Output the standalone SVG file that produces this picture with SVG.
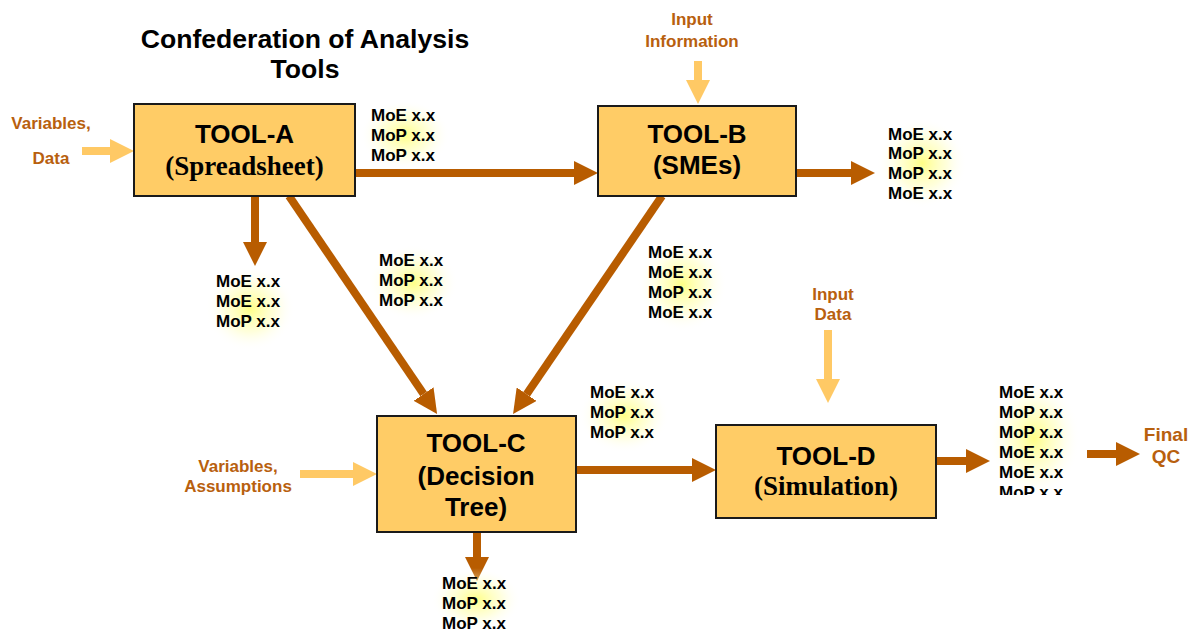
<svg xmlns="http://www.w3.org/2000/svg" width="1190" height="631" viewBox="0 0 1190 631">
<style>
.box{fill:#FFCC66;stroke:#1a1a1a;stroke-width:2}
.ttl{font-family:"Liberation Sans",Arial,sans-serif;font-weight:bold;font-size:26px;fill:#000;text-anchor:middle}
.big{font-size:26.6px}
.tms{font-family:"Liberation Serif","Times New Roman",serif;font-weight:bold;font-size:27px;fill:#000;text-anchor:middle}
.lbl{font-family:"Liberation Sans",Arial,sans-serif;font-weight:bold;font-size:17px;fill:#B8600E;text-anchor:middle}
.fin{font-family:"Liberation Sans",Arial,sans-serif;font-weight:bold;font-size:19px;fill:#B8600E;text-anchor:middle}
.m{font-family:"Liberation Sans",Arial,sans-serif;font-weight:bold;font-size:17px;fill:#000}
.dk{stroke:#B85C00;stroke-width:8;fill:none;marker-end:url(#hd)}
.lt{stroke:#FFC965;stroke-width:8;fill:none;marker-end:url(#hl)}
.glow{fill:url(#g)}
</style>
<defs>
<marker id="hd" viewBox="0 0 3 3" refX="0" refY="1.5" markerWidth="3" markerHeight="3" orient="auto" markerUnits="strokeWidth"><path d="M0,0 L3,1.5 L0,3 z" fill="#B85C00"/></marker>
<marker id="hl" viewBox="0 0 3 3" refX="0" refY="1.5" markerWidth="3" markerHeight="3" orient="auto" markerUnits="strokeWidth"><path d="M0,0 L3,1.5 L0,3 z" fill="#FFC965"/></marker>
<radialGradient id="g" cx="0.5" cy="0.5" r="0.5">
<stop offset="0" stop-color="#FFFF70" stop-opacity="0.85"/>
<stop offset="0.55" stop-color="#FFFFB0" stop-opacity="0.45"/>
<stop offset="1" stop-color="#FFFFFF" stop-opacity="0"/>
</radialGradient>
<clipPath id="clipD"><rect x="990" y="380" width="90" height="115"/></clipPath>
</defs>
<rect width="1190" height="631" fill="#fff"/>
<g id="title">
<text class="ttl big" x="305" y="48">Confederation of Analysis</text>
<text class="ttl big" x="305" y="78">Tools</text>
</g>
<g id="connectors">
<line class="lt" x1="82" y1="151" x2="110" y2="151"/>
<line class="dk" x1="355" y1="173" x2="574" y2="173"/>
<line class="lt" x1="698" y1="61" x2="698" y2="80"/>
<line class="dk" x1="797" y1="173" x2="851" y2="173"/>
<line class="dk" x1="255" y1="196" x2="255" y2="242"/>
<line class="dk" x1="289" y1="196" x2="423.6" y2="394.1"/>
<line class="dk" x1="662" y1="196" x2="526.6" y2="394.2"/>
<line class="lt" x1="300" y1="474" x2="353" y2="474"/>
<line class="dk" x1="576" y1="470" x2="692" y2="470"/>
<line class="dk" x1="477" y1="532" x2="477" y2="557"/>
<line class="lt" x1="828" y1="330" x2="828" y2="379"/>
<line class="dk" x1="936" y1="461" x2="966" y2="461"/>
<line class="dk" x1="1087" y1="454" x2="1116" y2="454"/>
</g>
<g id="inputs">
<text class="lbl" x="51" y="129">Variables,</text>
<text class="lbl" x="51" y="164">Data</text>
<text class="lbl" x="692" y="25">Input</text>
<text class="lbl" x="692" y="47">Information</text>
<text class="lbl" x="238" y="472">Variables,</text>
<text class="lbl" x="238" y="492">Assumptions</text>
<text class="lbl" x="833" y="300">Input</text>
<text class="lbl" x="833" y="320">Data</text>
<text class="fin" x="1166" y="441">Final</text>
<text class="fin" x="1166" y="463">QC</text>
</g>
<g id="node-a">
<rect class="box" x="134" y="104" width="221" height="92"/>
<text class="ttl" x="244.5" y="143">TOOL-A</text>
<text class="tms" x="244.5" y="175">(Spreadsheet)</text>
</g>
<g id="node-b">
<rect class="box" x="598" y="106" width="198" height="90"/>
<text class="ttl" x="697" y="143">TOOL-B</text>
<text class="ttl" x="697" y="174">(SMEs)</text>
</g>
<g id="node-c">
<rect class="box" x="377" y="416" width="199" height="116"/>
<text class="ttl" x="476" y="452">TOOL-C</text>
<text class="ttl" x="476" y="485">(Decision</text>
<text class="ttl" x="476" y="516">Tree)</text>
</g>
<g id="node-d">
<rect class="box" x="716" y="425" width="220" height="93"/>
<text class="ttl" x="826" y="465">TOOL-D</text>
<text class="tms" x="826" y="495">(Simulation)</text>
</g>
<g id="labels">
<rect class="glow" x="360" y="100" width="90" height="70"/>
<text class="m" x="371" y="121">MoE x.x</text>
<text class="m" x="371" y="141">MoP x.x</text>
<text class="m" x="371" y="161">MoP x.x</text>
<rect class="glow" x="877" y="118" width="90" height="90"/>
<text class="m" x="888" y="140">MoE x.x</text>
<text class="m" x="888" y="159">MoP x.x</text>
<text class="m" x="888" y="179">MoP x.x</text>
<text class="m" x="888" y="199">MoE x.x</text>
<rect class="glow" x="205" y="266" width="90" height="85"/>
<text class="m" x="216" y="287">MoE x.x</text>
<text class="m" x="216" y="307">MoE x.x</text>
<text class="m" x="216" y="327">MoP x.x</text>
<rect class="glow" x="368" y="245" width="90" height="75"/>
<text class="m" x="379" y="266">MoE x.x</text>
<text class="m" x="379" y="286">MoP x.x</text>
<text class="m" x="379" y="306">MoP x.x</text>
<rect class="glow" x="637" y="237" width="90" height="95"/>
<text class="m" x="648" y="258">MoE x.x</text>
<text class="m" x="648" y="278">MoE x.x</text>
<text class="m" x="648" y="298">MoP x.x</text>
<text class="m" x="648" y="318">MoE x.x</text>
<rect class="glow" x="579" y="378" width="90" height="75"/>
<text class="m" x="590" y="398">MoE x.x</text>
<text class="m" x="590" y="418">MoP x.x</text>
<text class="m" x="590" y="438">MoP x.x</text>
<rect class="glow" x="431" y="568" width="90" height="63"/>
<text class="m" x="442" y="589">MoE x.x</text>
<text class="m" x="442" y="609">MoP x.x</text>
<text class="m" x="442" y="629">MoP x.x</text>
<rect class="glow" x="988" y="378" width="92" height="120"/>
<g clip-path="url(#clipD)">
<text class="m" x="999" y="398">MoE x.x</text>
<text class="m" x="999" y="418">MoP x.x</text>
<text class="m" x="999" y="438">MoP x.x</text>
<text class="m" x="999" y="458">MoE x.x</text>
<text class="m" x="999" y="478">MoE x.x</text>
<text class="m" x="999" y="498">MoP x.x</text>
</g>
</g>
</svg>
